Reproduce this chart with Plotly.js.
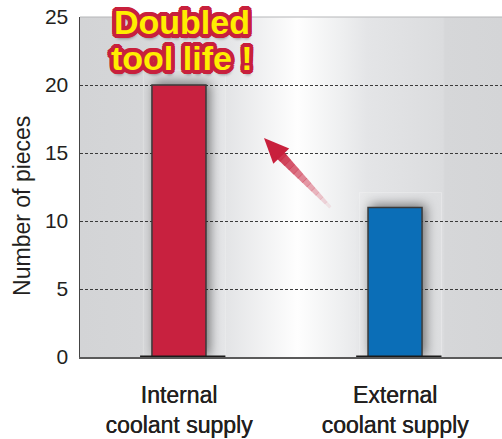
<!DOCTYPE html>
<html>
<head>
<meta charset="utf-8">
<script src="https://cdn.plot.ly/plotly-3.0.1.min.js"></script>
<style>
  html, body { margin: 0; padding: 0; background: #ffffff; }
  #chart { width: 502px; height: 439px; }
  .trace.bars .point path { filter: drop-shadow(3px -2px 6px rgba(0,0,0,0.5)); }
</style>
</head>
<body>
<div id="chart"></div>
<script>
// ---- data ----
const categories = ["Internal<br>coolant supply", "External<br>coolant supply"];
const pieces = [20, 11];
const barColors = ["#c8213f", "#0b6eb7"];
const yTickVals = [0, 5, 10, 15, 20, 25];
const yTitle = "Number of pieces";
const calloutLines = ["Doubled", "tool life !"];

// ---- background gradient (plot area) ----
const bgSvg = "<svg xmlns='http://www.w3.org/2000/svg' width='422' height='340' viewBox='0 0 422 340' preserveAspectRatio='none'>" +
  "<defs><linearGradient id='g' x1='0' x2='1' y1='0' y2='0'>" +
  "<stop offset='0' stop-color='#d3d4d6'/>" +
  "<stop offset='0.14' stop-color='#d5d6d8'/>" +
  "<stop offset='0.345' stop-color='#e3e4e6'/>" +
  "<stop offset='0.515' stop-color='#fefefe'/>" +
  "<stop offset='0.62' stop-color='#eeeff0'/>" +
  "<stop offset='0.68' stop-color='#e4e5e7'/>" +
  "<stop offset='0.86' stop-color='#dbdcde'/>" +
  "<stop offset='0.865' stop-color='#d6d7d9'/>" +
  "<stop offset='1' stop-color='#d4d5d7'/>" +
  "</linearGradient></defs><rect x='0' y='0' width='422' height='340' fill='url(#g)'/></svg>";

const shapes = [];
// faint panels + dark base behind each bar
pieces.forEach((v, i) => {
  shapes.push({type: "rect", xref: "x", yref: "y", x0: i - 0.165, x1: i + 0.215, y0: 0, y1: v + 1.1,
    line: {color: "rgba(255,255,255,0.25)", width: 1}, fillcolor: "rgba(255,255,255,0.08)", layer: "below"});
  shapes.push({type: "line", xref: "x", yref: "y", x0: i - 0.18, x1: i + 0.215, y0: 0, y1: 0,
    line: {color: "#1a1a1a", width: 3}, layer: "above"});
});
// top border of plot area
shapes.push({type: "line", xref: "paper", yref: "paper", x0: 0, x1: 1, y0: 1, y1: 1,
  line: {color: "#b5b6b8", width: 1}});

// gradient arrow (pixel path relative to its tip)
const tip = {x: 0.436, y: 0.644};
const ux = 0.691, uy = -0.722, px = 0.722, py = 0.691;
function pt(d, w) { return (ux * d + px * w).toFixed(2) + "," + (uy * d + py * w).toFixed(2); }
const red = "#c8203c";
shapes.push({type: "path", xref: "paper", yref: "paper", xsizemode: "pixel", ysizemode: "pixel",
  xanchor: tip.x, yanchor: tip.y,
  path: "M" + pt(0, 0) + " L" + pt(25, 11) + " L" + pt(25, -11) + " Z",
  fillcolor: red, line: {width: 0}, opacity: 1});
const nSeg = 12, d0 = 22, d1 = 96;
for (let k = 0; k < nSeg; k++) {
  const a = d0 + (d1 - d0) * k / nSeg, b = d0 + (d1 - d0) * (k + 1) / nSeg;
  const wa = 5 - 3.5 * (a - d0) / (d1 - d0), wb = 5 - 3.5 * (b - d0) / (d1 - d0);
  shapes.push({type: "path", xref: "paper", yref: "paper", xsizemode: "pixel", ysizemode: "pixel",
    xanchor: tip.x, yanchor: tip.y,
    path: "M" + pt(a - 0.4, wa) + " L" + pt(b, wb) + " L" + pt(b, -wb) + " L" + pt(a - 0.4, -wa) + " Z",
    fillcolor: red, line: {width: 0}, opacity: Math.max(0.04, 0.95 - 0.9 * (k + 0.5) / nSeg)});
}

const outline = "#c8203c";
const ring = [];
for (let a = 0; a < 16; a++) {
  const t = a * Math.PI / 8;
  ring.push((4 * Math.cos(t)).toFixed(2) + "px " + (4 * Math.sin(t)).toFixed(2) + "px 0 " + outline);
}
ring.push("1px 5px 3px rgba(0,0,0,0.35)");
const calloutFont = {family: "Liberation Sans, Arial, sans-serif", size: 34, color: "#ffee00", weight: 700, shadow: ring.join(", ")};

const annotations = [
  {xref: "paper", yref: "paper", x: 0.242, y: 0.985, text: calloutLines[0], showarrow: false,
    xanchor: "center", yanchor: "middle", font: calloutFont},
  {xref: "paper", yref: "paper", x: 0.242, y: 0.88, text: calloutLines[1], showarrow: false,
    xanchor: "center", yanchor: "middle", font: calloutFont},
  {xref: "paper", yref: "paper", x: -0.137, y: 0.445, text: yTitle, textangle: -90, showarrow: false,
    xanchor: "center", yanchor: "middle",
    font: {family: "Liberation Sans, Arial, sans-serif", size: 23, color: "#231f20"}}
];

const trace = {
  type: "bar",
  x: categories,
  y: pieces,
  width: 0.25,
  marker: {color: barColors, line: {color: "#3a3a3a", width: 1.5}},
  hoverinfo: "none"
};

const layout = {
  width: 502, height: 439,
  margin: {l: 80, r: 0, t: 17, b: 82, pad: 0},
  paper_bgcolor: "#ffffff",
  plot_bgcolor: "rgba(0,0,0,0)",
  showlegend: false,
  font: {family: "Liberation Sans, Arial, sans-serif", color: "#231f20"},
  xaxis: {
    type: "category",
    range: [-0.458, 1.495],
    showgrid: false,
    showline: true, linecolor: "#5a5a5a", linewidth: 2,
    ticks: "",
    tickfont: {size: 23, color: "#231f20", shadow: "0.4px 0 0 #231f20"},
    ticklabelstandoff: 16,
    fixedrange: true
  },
  yaxis: {
    range: [0, 25],
    tickvals: yTickVals,
    ticktext: yTickVals.map(String),
    showgrid: true, gridcolor: "#3a3a3a", gridwidth: 1, griddash: "3px,2px",
    zeroline: false,
    showline: true, linecolor: "#444444", linewidth: 1.5,
    ticks: "",
    tickfont: {size: 21, color: "#231f20"},
    ticklabelstandoff: 6,
    fixedrange: true
  },
  images: [{
    source: "data:image/svg+xml;charset=utf-8," + encodeURIComponent(bgSvg),
    xref: "paper", yref: "paper", x: 0, y: 1, sizex: 1, sizey: 1,
    xanchor: "left", yanchor: "top", sizing: "stretch", layer: "below"
  }],
  shapes: shapes,
  annotations: annotations,
  bargap: 0
};

Plotly.newPlot("chart", [trace], layout, {displayModeBar: false, staticPlot: true});
</script>
</body>
</html>
